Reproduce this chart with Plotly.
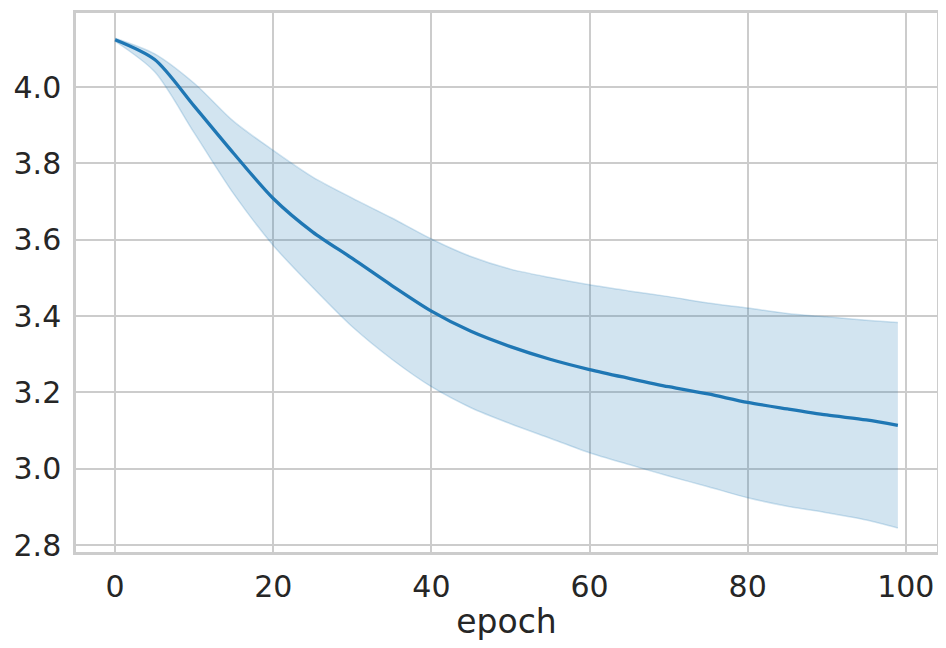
import plotly.graph_objects as go

# mean loss per epoch and the confidence band around it
epoch = [0, 5, 10, 15, 20, 25, 30, 35, 40, 45, 50, 55, 60, 65, 70, 75, 80, 85, 90, 95, 99]
loss_mean = [4.124, 4.072, 3.950, 3.826, 3.708, 3.620, 3.551, 3.480, 3.413, 3.360,
             3.320, 3.287, 3.260, 3.237, 3.215, 3.196, 3.174, 3.157, 3.141, 3.128, 3.114]
loss_upper = [4.128, 4.087, 4.010, 3.910, 3.834, 3.764, 3.709, 3.657, 3.602, 3.556,
              3.523, 3.501, 3.482, 3.466, 3.451, 3.434, 3.421, 3.407, 3.398, 3.389, 3.383]
loss_lower = [4.120, 4.040, 3.880, 3.720, 3.585, 3.475, 3.372, 3.287, 3.215, 3.160,
              3.118, 3.080, 3.042, 3.011, 2.981, 2.953, 2.924, 2.902, 2.885, 2.866, 2.845]

x_ticks = [0, 20, 40, 60, 80, 100]
y_ticks = [2.8, 3.0, 3.2, 3.4, 3.6, 3.8, 4.0]

blue = "#1f77b4"
band = "rgba(31,119,180,0.2)"
grid = "#cccccc"
font = "DejaVu Sans"

fig = go.Figure()

# band: lower edge first, then upper edge filled down to it
fig.add_trace(go.Scatter(x=epoch, y=loss_lower, mode="lines",
                         line=dict(color=band, width=1.5, shape="spline", smoothing=0.8),
                         showlegend=False, hoverinfo="skip"))
fig.add_trace(go.Scatter(x=epoch, y=loss_upper, mode="lines",
                         line=dict(color=band, width=1.5, shape="spline", smoothing=0.8),
                         fill="tonexty", fillcolor=band,
                         showlegend=False, hoverinfo="skip"))
fig.add_trace(go.Scatter(x=epoch, y=loss_mean, mode="lines",
                         line=dict(color=blue, width=3.3, shape="spline", smoothing=0.8),
                         showlegend=False))

# page body has an 8px margin, so the figure is 8px smaller than the window
fig.update_layout(
    width=938, height=640,
    margin=dict(l=68, r=9, t=2, b=96),
    paper_bgcolor="white", plot_bgcolor="white",
    font=dict(family=font, color="#262626"),
    xaxis=dict(range=[-4.95, 103.95], tickvals=x_ticks,
               tickfont=dict(size=30), title=dict(text="epoch", font=dict(size=33), standoff=8),
               showgrid=True, gridcolor=grid, gridwidth=2,
               showline=True, mirror=True, linecolor=grid, linewidth=2.5,
               zeroline=False, ticks="", ticklabelstandoff=6),
    yaxis=dict(range=[2.782, 4.194], tickvals=y_ticks, tickformat=".1f",
               tickfont=dict(size=30),
               showgrid=True, gridcolor=grid, gridwidth=2,
               showline=True, mirror=True, linecolor=grid, linewidth=2.5,
               zeroline=False, ticks="", ticklabelstandoff=6),
)

fig.write_html("out.html")
